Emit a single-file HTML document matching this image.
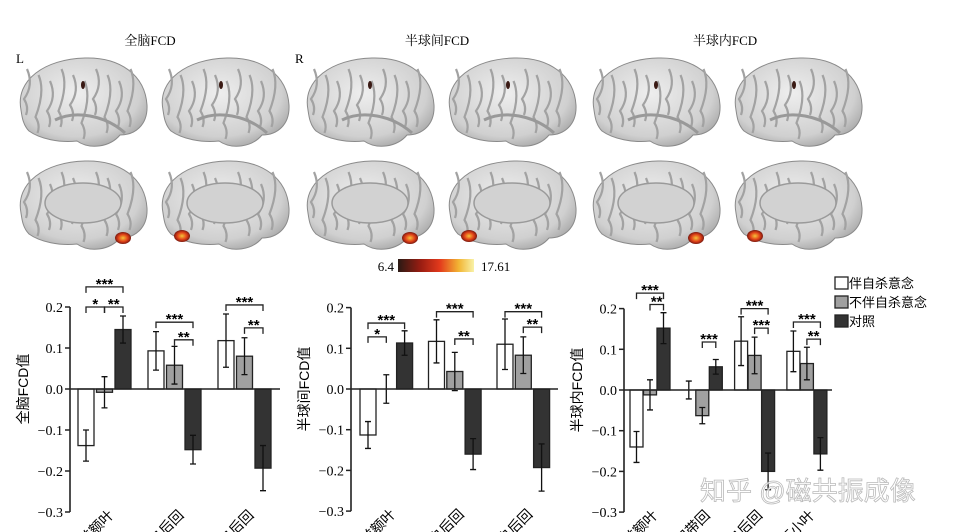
<!DOCTYPE html>
<html><head><meta charset="utf-8">
<style>
html,body{margin:0;padding:0;background:#fff;}
body{width:959px;height:532px;overflow:hidden;position:relative;font-family:"Liberation Serif","Noto Serif CJK SC",serif;}
svg{position:absolute;left:0;top:0;}
</style></head>
<body>
<svg id="fig" width="959" height="532" viewBox="0 0 959 532">
<defs>
<clipPath id="frame"><rect x="0" y="0" width="959" height="532"/></clipPath>
<linearGradient id="cb" x1="0" x2="1" y1="0" y2="0">
<stop offset="0" stop-color="#2a1a14"/><stop offset="0.3" stop-color="#9a1d12"/><stop offset="0.55" stop-color="#e33a1c"/><stop offset="0.8" stop-color="#f2b534"/><stop offset="1" stop-color="#f8f2a8"/>
</linearGradient>
<radialGradient id="brainG" cx="0.45" cy="0.4" r="0.7">
<stop offset="0" stop-color="#eeeeee"/><stop offset="0.7" stop-color="#d0d0d0"/><stop offset="1" stop-color="#9a9a9a"/>
</radialGradient>
<radialGradient id="blob" cx="0.5" cy="0.5" r="0.5">
<stop offset="0" stop-color="#f6c33a"/><stop offset="0.6" stop-color="#e04018"/><stop offset="1" stop-color="#7a1a10"/>
</radialGradient>
</defs>
<g clip-path="url(#frame)">
<g id="brains"></g>
<text x="150" y="45" font-size="13" text-anchor="middle">全脑FCD</text>
<text x="437" y="45" font-size="13" text-anchor="middle">半球间FCD</text>
<text x="725" y="45" font-size="13" text-anchor="middle">半球内FCD</text>
<text x="16" y="63" font-size="13">L</text>
<text x="295" y="63" font-size="13">R</text>
<g>
<rect x="398" y="259" width="76" height="13" fill="url(#cb)"/>
<text x="394" y="271" font-size="13" text-anchor="end">6.4</text>
<text x="481" y="271" font-size="13">17.61</text>
</g>
<g font-size="13" font-family="Liberation Sans, Noto Sans CJK SC, sans-serif">
<rect x="835" y="277" width="13" height="12" fill="#fff" stroke="#222" stroke-width="1.3"/>
<text x="849" y="288">伴自杀意念</text>
<rect x="835" y="296" width="13" height="12" fill="#a0a0a0" stroke="#222" stroke-width="1.3"/>
<text x="849" y="307">不伴自杀意念</text>
<rect x="835" y="315" width="13" height="12" fill="#333" stroke="#222" stroke-width="1.3"/>
<text x="849" y="326">对照</text>
</g>
<g id="charts"></g>
<text x="700" y="500" font-size="26" fill="#fff" stroke="#aaa" stroke-width="0.8" opacity="0.8" font-family="Liberation Sans, Noto Sans CJK SC, sans-serif">知乎 @磁共振成像</text>
</g>
</svg>
<script>
// ---- chart data ----
const seriesNames = ["伴自杀意念","不伴自杀意念","对照"];
const c1Categories = ["右背外侧前额叶","左中央后回","右中央后回"];
const c1Values = [[-0.138,-0.008,0.145],[0.093,0.058,-0.148],[0.118,0.080,-0.193]];
const c1Errors = [[0.038,0.038,0.033],[0.047,0.046,0.035],[0.065,0.045,0.055]];
const c2Categories = ["右背外侧前额叶","左中央后回","右中央后回"];
const c2Values = [[-0.113,0.0,0.113],[0.117,0.043,-0.160],[0.110,0.083,-0.193]];
const c2Errors = [[0.033,0.035,0.030],[0.053,0.047,0.038],[0.062,0.045,0.058]];
const c3Categories = ["右背外侧前额叶","右扣带回","左中央后回","右小脑下小叶"];
const c3Values = [[-0.140,-0.012,0.152],[0.0,-0.063,0.057],[0.120,0.085,-0.200],[0.095,0.065,-0.157]];
const c3Errors = [[0.038,0.037,0.038],[0.022,0.020,0.018],[0.060,0.045,0.045],[0.050,0.040,0.040]];
// significance: [group, barA, barB, bracket level (value units), label]
const c1Sig = [[0,0,2,0.249,"***"],[0,0,1,0.200,"*"],[0,1,2,0.200,"**"],[1,0,2,0.163,"***"],[1,1,2,0.120,"**"],[2,0,2,0.205,"***"],[2,1,2,0.149,"**"]];
const c2Sig = [[0,0,2,0.162,"***"],[0,0,1,0.128,"*"],[1,0,2,0.190,"***"],[1,1,2,0.123,"**"],[2,0,2,0.190,"***"],[2,1,2,0.152,"**"]];
const c3Sig = [[0,0,2,0.238,"***"],[0,1,2,0.210,"**"],[1,1,2,0.118,"***"],[2,0,2,0.200,"***"],[2,1,2,0.152,"***"],[3,0,2,0.167,"***"],[3,1,2,0.125,"**"]];
const yTicks = [0.2,0.1,0.0,-0.1,-0.2,-0.3];
const yTickLabels = ["0.2","0.1","0.0","-0.1","-0.2","-0.3"];

const NS="http://www.w3.org/2000/svg";
function mk(tag,attrs,parent){const e=document.createElementNS(NS,tag);for(const k in attrs)e.setAttribute(k,attrs[k]);parent.appendChild(e);return e;}
const fills=["#ffffff","#a0a0a0","#333333"];

function drawChart(cfg){
  const g=mk("g",{},document.getElementById("charts"));
  
  
  const y0=cfg.zeroY, k=cfg.pxPer01/0.1;
  const Y=v=>y0 - v*k;
  const X=(gi,bi)=>cfg.groupX[0]+gi*cfg.groupStep+bi*cfg.barStep;
  const ax=mk("line",{x1:cfg.axisX,x2:cfg.axisX,y1:Y(0.2),y2:Y(-0.3),stroke:"#222","stroke-width":1.6},g);
  
  
  yTicks.forEach((t,i)=>{
    const tk=mk("line",{x1:cfg.axisX-5,x2:cfg.axisX,y1:Y(t),y2:Y(t),stroke:"#222","stroke-width":1.5},g);
    
    
    const tl=mk("text",{x:cfg.axisX-7,y:Y(t)+5,"font-size":14,"text-anchor":"end"},g);
    tl.textContent=yTickLabels[i].replace("-","\u2212");
    
    
  });
  const yt=mk("text",{x:0,y:0,"font-size":14,"text-anchor":"middle",transform:`translate(${cfg.axisX-42},${Y(0)}) rotate(-90)`,"font-family":"Liberation Sans, Noto Sans CJK SC, sans-serif"},g);
  yt.textContent=cfg.yTitle;
  
  
  cfg.values.forEach((grp,gi)=>{
    grp.forEach((v,bi)=>{
      const x=X(gi,bi);
      const r=mk("rect",{x:x,y:Math.min(Y(v),Y(0)),width:cfg.barW,height:Math.abs(Y(v)-Y(0)),fill:fills[bi],stroke:"#222","stroke-width":1.3},g);
      
      
      const e=cfg.errors[gi][bi], cx=x+cfg.barW/2;
      const el=mk("path",{d:`M${cx},${Y(v+e)}V${Y(v-e)}M${cx-3},${Y(v+e)}H${cx+3}M${cx-3},${Y(v-e)}H${cx+3}`,stroke:"#111","stroke-width":1.3,fill:"none"},g);
      
      
    });
    const lbl=mk("text",{x:0,y:0,"font-size":14,"text-anchor":"end",transform:`translate(${X(gi,1)+cfg.barW+2},${Y(-0.3)+4}) rotate(-45)`,"font-family":"Liberation Sans, Noto Sans CJK SC, sans-serif"},g);
    lbl.textContent=cfg.categories[gi];
    
    
  });
  const xa=mk("line",{x1:cfg.axisX,x2:cfg.axisEnd,y1:Y(0),y2:Y(0),stroke:"#222","stroke-width":1.6},g);
  
  
  cfg.sig.forEach(s=>{
    const [gi,a,b,lvl,txt]=s;
    const yb=Y(lvl);
    const xa1=X(gi,a)+cfg.barW/2, xb=X(gi,b)+cfg.barW/2;
    const p=mk("path",{d:`M${xa1},${yb+6}V${yb}H${xb}V${yb+6}`,stroke:"#222","stroke-width":1.3,fill:"none"},g);
    
    
    const t=mk("text",{x:(xa1+xb)/2,y:yb+2,"font-size":15,"font-weight":"bold","text-anchor":"middle","font-family":"Liberation Sans, sans-serif"},g);
    t.textContent=txt;
    
    
  });
}
drawChart({name:"chart-whole-brain",axisX:70,axisEnd:280,zeroY:389,pxPer01:41,groupX:[78],groupStep:70,barStep:18.5,barW:16,values:c1Values,errors:c1Errors,categories:c1Categories,sig:c1Sig,yTitle:"全脑FCD值"});
drawChart({name:"chart-interhemispheric",axisX:351,axisEnd:558,zeroY:389,pxPer01:40.7,groupX:[360],groupStep:68.5,barStep:18.3,barW:16,values:c2Values,errors:c2Errors,categories:c2Categories,sig:c2Sig,yTitle:"半球间FCD值"});
drawChart({name:"chart-intrahemispheric",axisX:624,axisEnd:832,zeroY:390,pxPer01:40.7,groupX:[630],groupStep:52.3,barStep:13.5,barW:13,values:c3Values,errors:c3Errors,categories:c3Categories,sig:c3Sig,yTitle:"半球内FCD值"});

// ---- brain renderings (decorative) ----
const bg=document.getElementById("brains");
const brainPos=[[15,55],[157,55],[302,55],[444,55],[588,55],[730,55]];
function brain(x,y,medial,idx){
  const g=mk("g",{transform:`translate(${x},${y})`},bg);
  
  
  mk("path",{d:`M6,55 C0,25 30,4 70,3 C105,2 130,20 132,50 C133,70 120,80 105,80 C95,92 75,95 62,86 C45,88 25,84 14,76 C8,70 7,62 6,55Z`,fill:"url(#brainG)",stroke:"#8a8a8a","stroke-width":1},g);
  for(let i=0;i<10;i++){
    mk("path",{d:`M${12+i*11.5},${14+(i%3)*6} q7,16 -3,${30+(i%2)*12} q5,8 2,16`,stroke:"#a2a2a2","stroke-width":2.2,fill:"none"},g);
  }
  if(medial){
    mk("ellipse",{cx:68,cy:45,rx:38,ry:20,fill:"#d2d2d2",stroke:"#9a9a9a","stroke-width":1.5},g);
    const left=(idx%2===0);
    mk("ellipse",{cx:left?108:25,cy:left?80:78,rx:8,ry:6,fill:"url(#blob)"},g);
  } else {
    mk("path",{d:`M40,65 C60,55 90,60 110,78`,stroke:"#999","stroke-width":3,fill:"none"},g);
    mk("ellipse",{cx:(idx%2===0)?68:64,cy:30,rx:2,ry:4,fill:"#3a1a14"},g);
  }
}
brainPos.forEach((p,i)=>{brain(p[0],p[1],false,i);brain(p[0],p[1]+103,true,i);});
</script>
</body></html>
